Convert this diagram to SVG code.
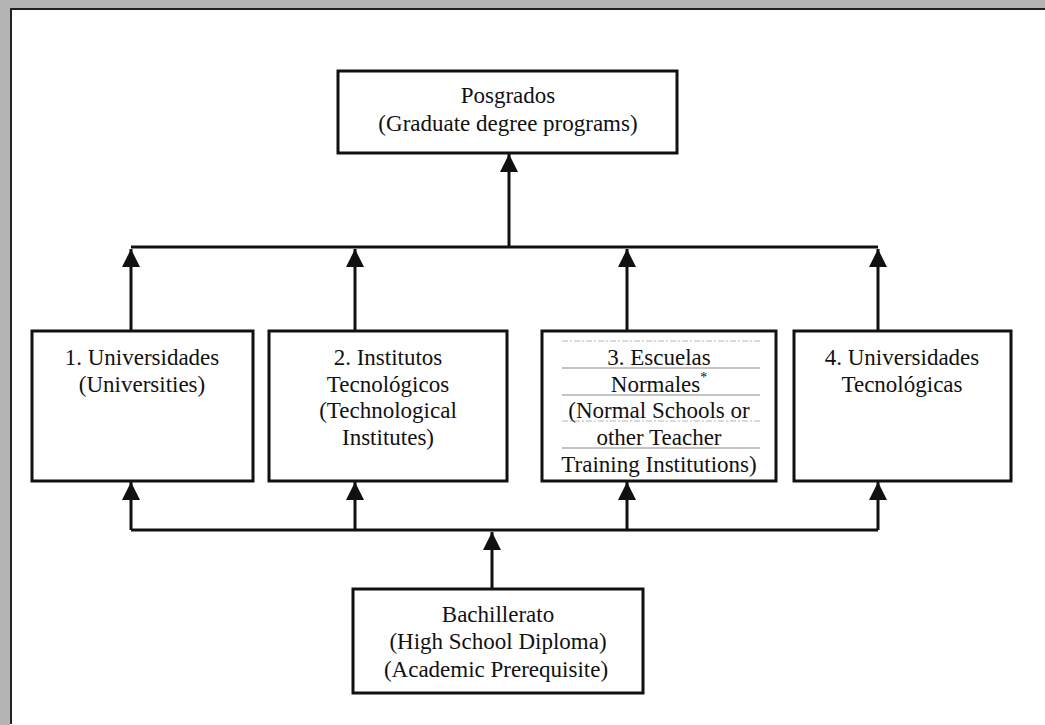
<svg xmlns="http://www.w3.org/2000/svg" width="1045" height="725" viewBox="0 0 1045 725">
  <defs>
    <style>
      .box { fill: #ffffff; stroke: #111111; stroke-width: 3; }
      .t { font-family: "Liberation Serif", "Times New Roman", serif; font-size: 23px; fill: #111111; text-anchor: middle; }
      .conn { fill: none; stroke: #111111; stroke-width: 3; }
      .rule { stroke: #8a8a8a; stroke-width: 1; }
      .ruled { stroke: #b5b5b5; stroke-width: 1; stroke-dasharray: 6 2 2 2; }
    </style>
    <marker id="arrow" viewBox="0 0 18 18" refX="18" refY="9" markerWidth="18" markerHeight="18" markerUnits="userSpaceOnUse" orient="auto">
      <path d="M0,0 L18,9 L0,18 z" fill="#111111"/>
    </marker>
    <linearGradient id="fade" x1="0" y1="0" x2="1" y2="0">
      <stop offset="0" stop-color="#111111"/>
      <stop offset="0.6" stop-color="#333333"/>
      <stop offset="1" stop-color="#9a9a9a"/>
    </linearGradient>
  </defs>

  <rect x="0" y="0" width="1045" height="725" fill="#ffffff"/>

  <g id="frame">
    <rect x="0" y="0" width="10" height="725" fill="#b4b4b4"/>
    <rect x="0" y="0" width="1045" height="8" fill="#b4b4b4"/>
    <line x1="11" y1="8" x2="11" y2="724" stroke="#222222" stroke-width="2"/>
    <line x1="10" y1="9" x2="1045" y2="9" stroke="#222222" stroke-width="2"/>
    <line x1="10" y1="723" x2="1045" y2="723" stroke="url(#fade)" stroke-width="2"/>
  </g>

  <g id="connectors">
    <line class="conn" x1="509" y1="247" x2="509" y2="154" marker-end="url(#arrow)"/>
    <path class="conn" d="M131,247 H878"/>
    <line class="conn" x1="131" y1="331" x2="131" y2="249" marker-end="url(#arrow)"/>
    <line class="conn" x1="355" y1="331" x2="355" y2="249" marker-end="url(#arrow)"/>
    <line class="conn" x1="627" y1="331" x2="627" y2="249" marker-end="url(#arrow)"/>
    <line class="conn" x1="878" y1="331" x2="878" y2="249" marker-end="url(#arrow)"/>
    <path class="conn" d="M131,530 H878"/>
    <line class="conn" x1="131" y1="530" x2="131" y2="482" marker-end="url(#arrow)"/>
    <line class="conn" x1="355" y1="530" x2="355" y2="482" marker-end="url(#arrow)"/>
    <line class="conn" x1="627" y1="530" x2="627" y2="482" marker-end="url(#arrow)"/>
    <line class="conn" x1="878" y1="530" x2="878" y2="482" marker-end="url(#arrow)"/>
    <line class="conn" x1="492" y1="589" x2="492" y2="532" marker-end="url(#arrow)"/>
  </g>

  <g id="posgrados">
    <rect class="box" x="338" y="71" width="339" height="82"/>
    <text class="t" x="508" y="103">Posgrados</text>
    <text class="t" x="508" y="131">(Graduate degree programs)</text>
  </g>

  <g id="universidades">
    <rect class="box" x="32" y="331" width="221" height="150"/>
    <text class="t" x="142" y="365">1. Universidades</text>
    <text class="t" x="142" y="392">(Universities)</text>
  </g>

  <g id="institutos">
    <rect class="box" x="269" y="331" width="238" height="150"/>
    <text class="t" x="388" y="365">2. Institutos</text>
    <text class="t" x="388" y="392">Tecnológicos</text>
    <text class="t" x="388" y="418">(Technological</text>
    <text class="t" x="388" y="445">Institutes)</text>
  </g>

  <g id="escuelas">
    <rect class="box" x="542" y="331" width="234" height="150"/>
    <line class="ruled" x1="562" y1="341" x2="760" y2="341"/>
    <line class="rule" x1="562" y1="368" x2="760" y2="368"/>
    <line class="rule" x1="562" y1="395" x2="760" y2="395"/>
    <line class="ruled" x1="562" y1="421" x2="760" y2="421"/>
    <line class="rule" x1="562" y1="448" x2="760" y2="448"/>
    <text class="t" x="659" y="365">3. Escuelas</text>
    <text class="t" x="659" y="392">Normales<tspan font-size="14" dy="-10">*</tspan></text>
    <text class="t" x="659" y="418">(Normal Schools or</text>
    <text class="t" x="659" y="445">other Teacher</text>
    <text class="t" x="659" y="472">Training Institutions)</text>
  </g>

  <g id="tecnologicas">
    <rect class="box" x="794" y="331" width="217" height="150"/>
    <text class="t" x="902" y="365">4. Universidades</text>
    <text class="t" x="902" y="392">Tecnológicas</text>
  </g>

  <g id="bachillerato">
    <rect class="box" x="353" y="589" width="290" height="104"/>
    <text class="t" x="498" y="622">Bachillerato</text>
    <text class="t" x="498" y="649">(High School Diploma)</text>
    <text class="t" x="496" y="677">(Academic Prerequisite)</text>
  </g>
</svg>
